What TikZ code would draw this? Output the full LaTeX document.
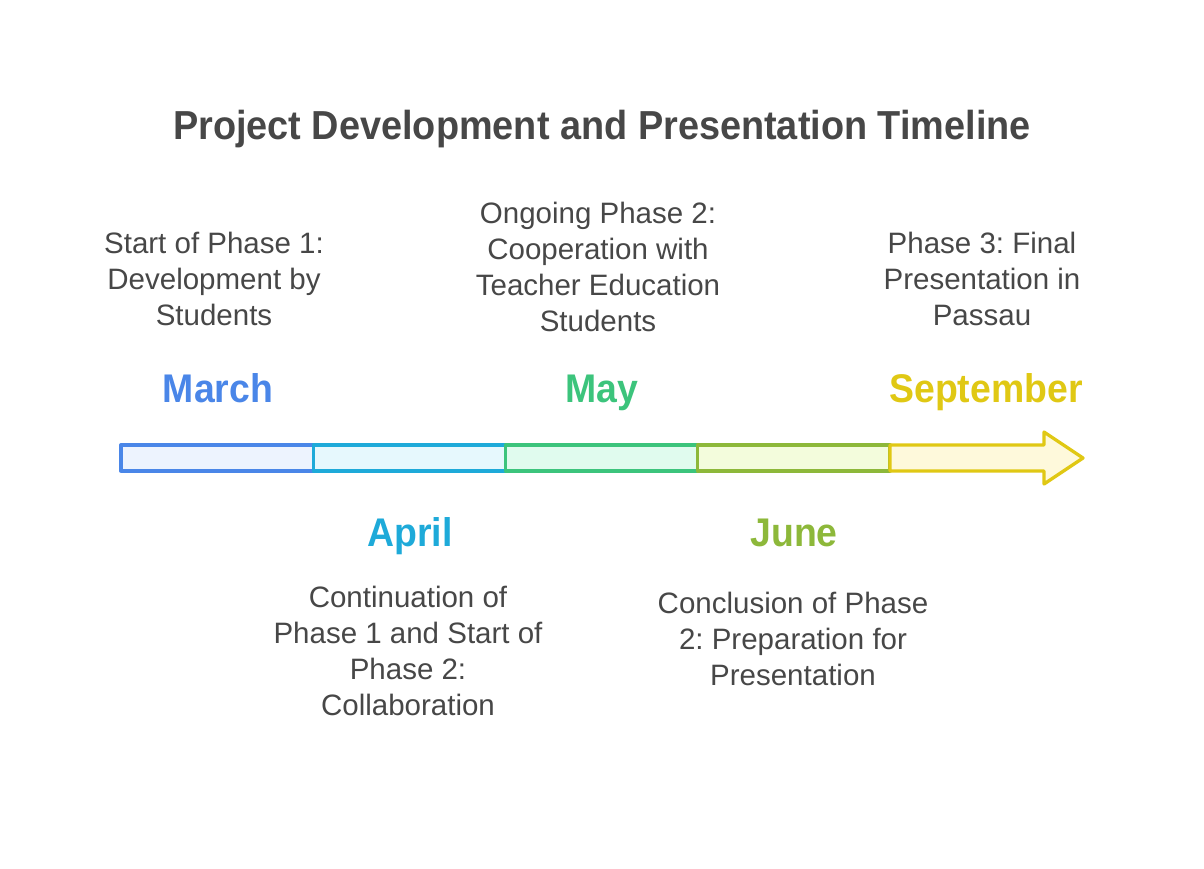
\documentclass[tikz,border=0pt]{standalone}
\usepackage{fontspec}
\setmainfont{Liberation Sans}
\newfontfamily\headfont[FakeStretch=0.935]{Liberation Sans}
\usepackage{tikz}
\frenchspacing

\definecolor{inkgray}{HTML}{474747}
\definecolor{cmarch}{HTML}{4A86E8}
\definecolor{fmarch}{HTML}{EDF3FE}
\definecolor{capril}{HTML}{1EAAD9}
\definecolor{fapril}{HTML}{E6F8FD}
\definecolor{cmay}{HTML}{3CC47C}
\definecolor{fmay}{HTML}{E0FBEE}
\definecolor{cjune}{HTML}{8DB83A}
\definecolor{fjune}{HTML}{F3FCDC}
\definecolor{csept}{HTML}{E0C814}
\definecolor{fsept}{HTML}{FEF9DB}

\tikzset{
    month/.style={font=\headfont\fontsize{40}{42}\selectfont\bfseries, text=#1, inner sep=0pt, anchor=base},
    desc/.style={font=\fontsize{29.5}{36}\selectfont, text=inkgray, align=center, inner sep=0pt},
    seg/.style={draw=#1, line width=3.3pt, line join=round}
}

\begin{document}
\begin{tikzpicture}[x=1pt, y=-1pt]

\useasboundingbox (0,0) rectangle (1204,868);

% Title
\node[font=\headfont\fontsize{40.5}{42}\selectfont\bfseries, text=inkgray, inner sep=0pt, anchor=base]
    (title) at (602,139) {Project Development and Presentation Timeline};

% Bar segments (March to June)
\foreach \i/\col/\fil in {0/cmarch/fmarch,1/capril/fapril,2/cmay/fmay,3/cjune/fjune} {
    \pgfmathsetmacro{\xleft}{121 + 192.25*\i}
    \draw[seg=\col, fill=\fil] (\xleft,445) rectangle ++(192.25,26);
}

% Arrow for September
\draw[seg=csept, fill=fsept]
    (890,445) -- (1044,445) -- (1044,432) -- (1083,458) -- (1044,484)
    -- (1044,471) -- (890,471) -- cycle;

% Months (baselines)
\node[month=cmarch] (march) at (218,402) {March};
\node[month=capril] (april) at (410,546) {April};
\node[month=cmay] (may) at (602,402) {May};
\node[month=cjune] (june) at (794,546) {June};
\node[month=csept] (september) at (986,402) {September};

% Descriptions
\node[desc] (marchtext) at (214,279) {Start of Phase 1:\\Development by\\Students};
\node[desc] (maytext) at (598,267) {Ongoing Phase 2:\\Cooperation with\\Teacher Education\\Students};
\node[desc] (septembertext) at (982,279) {Phase 3: Final\\Presentation in\\Passau};
\node[desc] (apriltext) at (408,651) {Continuation of\\Phase 1 and Start of\\Phase 2:\\Collaboration};
\node[desc] (junetext) at (793,639) {Conclusion of Phase\\2: Preparation for\\Presentation};

\end{tikzpicture}
\end{document}
